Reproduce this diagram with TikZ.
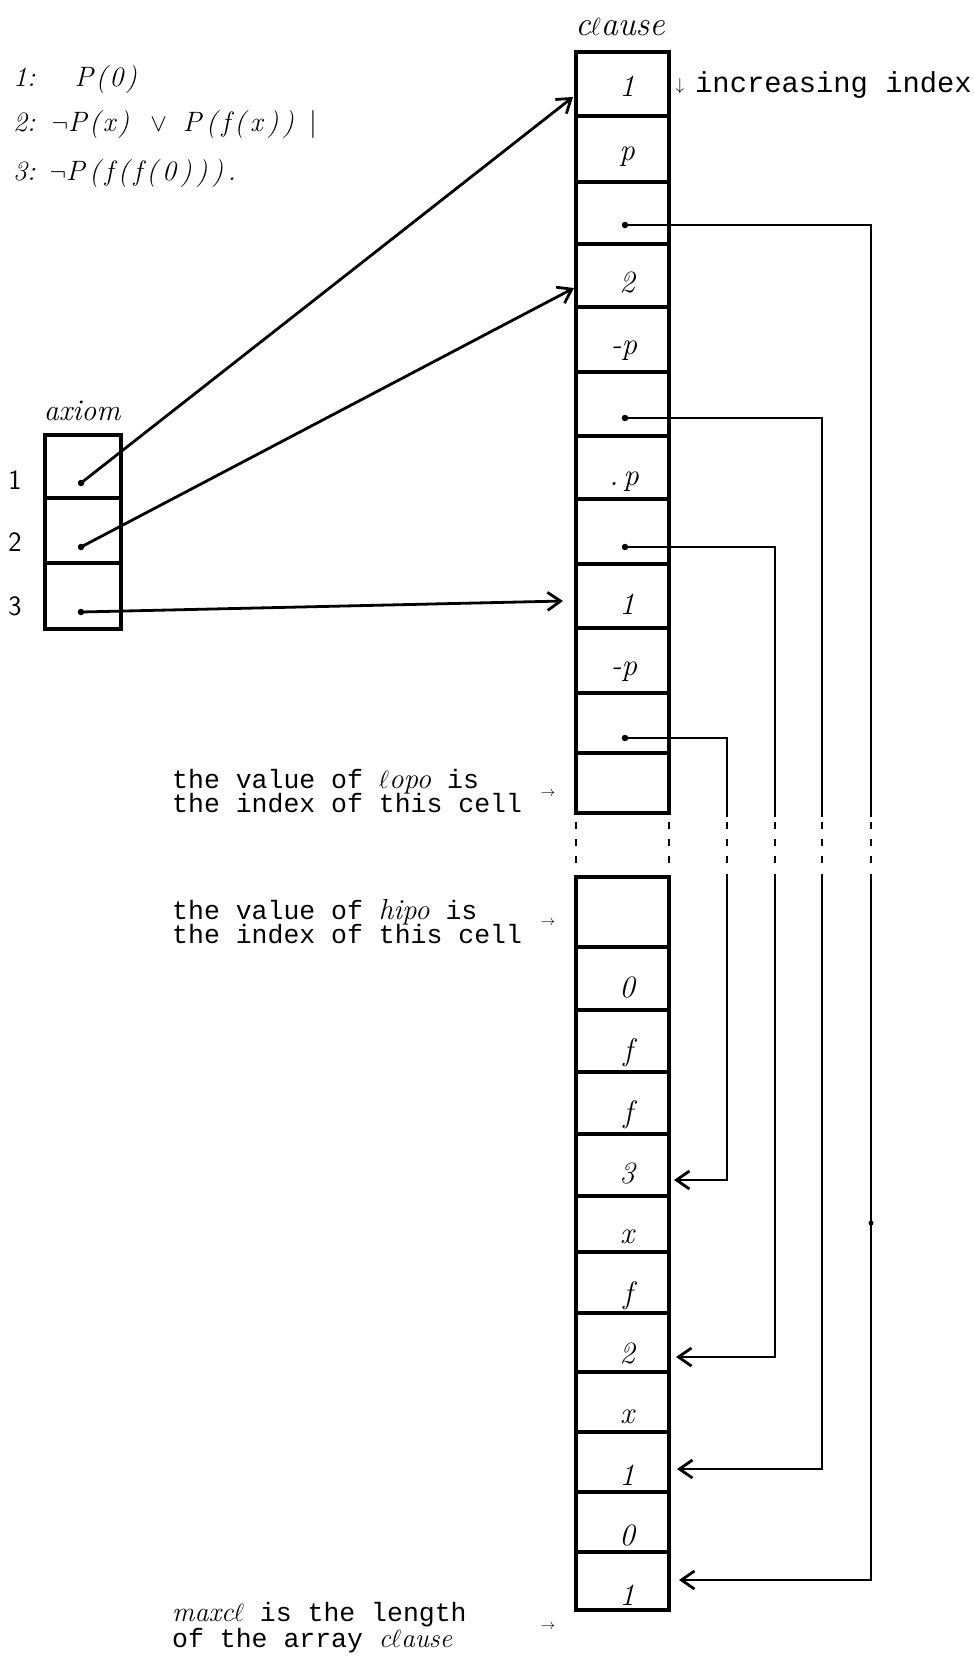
\documentclass[tikz,border=0pt]{standalone}
\usepackage{fontspec}
\newfontfamily\typewriter{Liberation Mono}
\usetikzlibrary{arrows.meta}
\newcommand\gp{\hspace{2.5pt}}
\newcommand\gq{\hspace{4.5pt}}
\begin{document}
\begin{tikzpicture}[x=1pt,y=-1pt,
  cell/.style={draw,line width=3.2pt,minimum width=93pt,inner sep=0pt,outer sep=0pt},
  acell/.style={draw,line width=3.2pt,minimum width=76pt,minimum height=#1,inner sep=0pt,outer sep=0pt},
  val/.style={anchor=base,inner sep=0pt,font=\fontsize{31}{31}\selectfont\itshape},
  ptr/.style={line width=2.8pt,line join=miter},
  barb/.style={-{Straight Barb[length=13pt,width=18pt,line width=2.8pt]}},
  ptdot/.style={circle,fill,inner sep=0pt,minimum size=6.5pt},
  mono/.style={anchor=base west,inner sep=0pt,font=\fontsize{26.5}{26.5}\selectfont\typewriter},
  formula/.style={anchor=base west,inner sep=0pt,font=\fontsize{28}{28}\selectfont\itshape},
  smallarrow/.style={inner sep=0pt,font=\fontsize{15}{15}\selectfont},
  gapdash/.style={line width=2.8pt},
  idx/.style={font=\fontsize{28}{28}\selectfont\sffamily},
]
\useasboundingbox (0,0) rectangle (974,1658);

% ---------- formulas ----------
\node[formula] (f1) at (13,86) {1:\hspace{39pt}P\gp(\gp0\gp)};
\node[formula] (f2) at (13,131) {2:\hspace{16pt}$\neg$P\gp(\gp x\gp)\hspace{21pt}$\vee$\hspace{16pt}P\gq(\gq f\gq(\gq x\gq)\gq)\hspace{15pt}{\upshape|}};
\node[formula] (f3) at (13,180) {3:\hspace{14pt}$\neg$P\gq(\gq f\gq(\gq f\gq(\gq0\gq)\gq)\gq)\gq.};

% ---------- clause array ----------
\node[font=\fontsize{34}{34}\selectfont\itshape] (clabel) at (620,27) {c$\ell$ause};
\node[cell,minimum height=64pt] (c1) at (622.5,84) {};
\node[cell,minimum height=66pt] (c2) at (622.5,149) {};
\node[cell,minimum height=62pt] (c3) at (622.5,213) {};
\node[cell,minimum height=63pt] (c4) at (622.5,275.5) {};
\node[cell,minimum height=65pt] (c5) at (622.5,339.5) {};
\node[cell,minimum height=64pt] (c6) at (622.5,404) {};
\node[cell,minimum height=63pt] (c7) at (622.5,467.5) {};
\node[cell,minimum height=65pt] (c8) at (622.5,531.5) {};
\node[cell,minimum height=64pt] (c9) at (622.5,596) {};
\node[cell,minimum height=65pt] (c10) at (622.5,660.5) {};
\node[cell,minimum height=60pt] (c11) at (622.5,723) {};
\node[cell,minimum height=60pt] (c12) at (622.5,783) {};
\node[cell,minimum height=70pt] (c13) at (622.5,912) {};
\node[cell,minimum height=63pt] (c14) at (622.5,978.5) {};
\node[cell,minimum height=62pt] (c15) at (622.5,1041) {};
\node[cell,minimum height=62pt] (c16) at (622.5,1103) {};
\node[cell,minimum height=62pt] (c17) at (622.5,1165) {};
\node[cell,minimum height=56pt] (c18) at (622.5,1224) {};
\node[cell,minimum height=61pt] (c19) at (622.5,1282.5) {};
\node[cell,minimum height=59pt] (c20) at (622.5,1342.5) {};
\node[cell,minimum height=60pt] (c21) at (622.5,1402) {};
\node[cell,minimum height=60pt] (c22) at (622.5,1462) {};
\node[cell,minimum height=60pt] (c23) at (622.5,1522) {};
\node[cell,minimum height=58pt] (c24) at (622.5,1581) {};

% cell contents
\node[val] (v1) at (627,96) {1};
\node[val] (v2) at (627,160) {p};
\node[val] (v4) at (627,292) {2};
\node[val] (v5) at (624,354) {-p};
\node[val] (v7) at (624,485) {.\,p};
\node[val] (v9) at (627,614) {1};
\node[val] (v10) at (624,675) {-p};
\node[val] (v14) at (627,997) {0};
\node[val] (v15) at (628,1060) {f};
\node[val] (v16) at (628,1122) {f};
\node[val] (v17) at (627,1183) {3};
\node[val] (v18) at (627,1243) {x};
\node[val] (v19) at (628,1303) {f};
\node[val] (v20) at (627,1363) {2};
\node[val] (v21) at (627,1423) {x};
\node[val] (v22) at (627,1485) {1};
\node[val] (v23) at (627,1545) {0};
\node[val] (v24) at (627,1605) {1};

% increasing index
\node[font=\fontsize{17}{17}\selectfont] (down) at (680,86) {$\downarrow$};
\node[mono,font=\fontsize{28.8}{28.8}\selectfont\typewriter] (incr) at (695,92) {increasing index};

% ---------- pointers inside clause ----------
\node[ptdot] (p3) at (625,225) {};
\node[ptdot] (p6) at (625,418) {};
\node[ptdot] (p8) at (625,547) {};
\node[ptdot] (p11) at (625,738) {};
\coordinate (r3) at (871,1580);
\coordinate (r6) at (822,1469);
\coordinate (r8) at (775,1357);
\coordinate (r11) at (727,1180);
\coordinate (q24) at (679,1580);
\coordinate (q22) at (677,1469);
\coordinate (q20) at (676,1357);
\coordinate (q17) at (674,1180);
\draw[ptr,barb] (p3.center) -| (r3) -- (q24);
\draw[ptr,barb] (p6.center) -| (r6) -- (q22);
\draw[ptr,barb] (p8.center) -| (r8) -- (q20);
\draw[ptr,barb] (p11.center) -| (r11) -- (q17);
\node[circle,fill,inner sep=0pt,minimum size=5pt] (speck) at (871,1223) {};

% ---------- broken part of the array ----------
\fill[white] (566,816.7) rectangle (885,874.3);
\foreach \x in {576,669,727,775,822,871}{
  \draw[gapdash] (\x,822) -- (\x,829);
  \draw[gapdash] (\x,839) -- (\x,846);
  \draw[gapdash] (\x,856) -- (\x,863);
}

% ---------- axiom array ----------
\node[font=\fontsize{30}{30}\selectfont\itshape] (alabel) at (82,411) {axiom};
\node[acell=63pt] (a1) at (83,466.5) {};
\node[acell=65pt] (a2) at (83,530.5) {};
\node[acell=66pt] (a3) at (83,596) {};
\node[idx] (n1) at (15,480) {1};
\node[idx] (n2) at (15,542) {2};
\node[idx] (n3) at (15,606) {3};
\node[ptdot] (d1) at (81,483) {};
\node[ptdot] (d2) at (81,547) {};
\node[ptdot] (d3) at (81,612) {};
\coordinate (e1) at (573,97);
\coordinate (e2) at (574,288);
\coordinate (e3) at (563,601);
\draw[ptr,barb] (d1.center) -- (e1);
\draw[ptr,barb] (d2.center) -- (e2);
\draw[ptr,barb] (d3.center) -- (e3);

% ---------- explanations ----------
\node[mono] (lo1) at (172,788) {the value of {\rmfamily\itshape\fontsize{29}{29}\selectfont $\ell$opo} is};
\node[mono] (lo2) at (172,812) {the index of this cell};
\node[smallarrow] (lar) at (548,794) {$\rightarrow$};
\node[mono] (hi1) at (172,919) {the value of {\rmfamily\itshape\fontsize{29}{29}\selectfont hipo} is};
\node[mono] (hi2) at (172,943) {the index of this cell};
\node[smallarrow] (har) at (548,923) {$\rightarrow$};
\node[mono] (mx1) at (172,1621) {{\rmfamily\itshape\fontsize{28}{28}\selectfont maxc$\ell$} is the length};
\node[mono] (mx2) at (172,1647) {of the array {\rmfamily\itshape\fontsize{27}{27}\selectfont c$\ell$ause}};
\node[smallarrow] (mar) at (548,1627) {$\rightarrow$};
\end{tikzpicture}
\end{document}
